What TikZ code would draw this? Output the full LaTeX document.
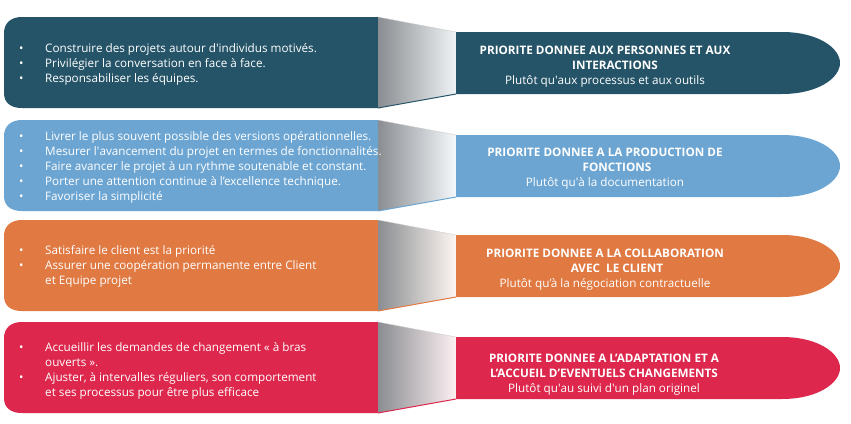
\documentclass[tikz,border=0pt]{standalone}
\usepackage{fontspec}
\setmainfont{Open Sans}
\usepackage{tikz}

\definecolor{tealrow}{RGB}{37,84,104}
\definecolor{bluerow}{RGB}{108,165,210}
\definecolor{orangerow}{RGB}{224,121,66}
\definecolor{redrow}{RGB}{221,39,76}
\definecolor{funnelgrey}{RGB}{138,141,145}

\begin{document}
\begin{tikzpicture}[x=1pt,y=-1pt,
  txt/.style={text=white,inner sep=0pt,font=\fontsize{11.7}{15}\selectfont},
  bullets/.style={txt,anchor=base west},
  prio/.style={txt,anchor=base}]
\useasboundingbox (0,0) rectangle (851,423);

% the four rows: box, funnel, arrow
\foreach \t/\col in {17/tealrow,120/bluerow,220/orangerow,322/redrow}{
\fill[\col](379,\t)--(22,\t) .. controls (11,\t) and (4,\t+6) .. (4,\t+16)
  --(4,\t+76) .. controls (4,\t+86) and (11,\t+91) .. (22,\t+91)--(379,\t+91)--cycle;
\shade[left color=funnelgrey,right color=\col!7!white](378,\t)--(456,\t+15)--(456,\t+77)--(378,\t+91)--cycle;
\draw[\col,line width=1pt](378,\t+91)--(456,\t+77);
\draw[gray!40](378,\t)--(456,\t+15);
\fill[\col](456,\t+15)--(782,\t+15) .. controls (818,\t+15) and (840,\t+31) .. (840,\t+46)
  .. controls (840,\t+61) and (818,\t+77) .. (782,\t+77)--(456,\t+77)--cycle;
}

\node[bullets](left1) at (19,52){\begin{tabular}[t]{@{}p{26pt}@{}l@{}}
\textbullet & Construire des projets autour d\textquotesingle individus motivés.\\
\textbullet & Privilégier la conversation en face à face.\\
\textbullet & Responsabiliser les équipes.\end{tabular}};
\node[bullets](left2) at (19,140){\begin{tabular}[t]{@{}p{26pt}@{}l@{}}
\textbullet & Livrer le plus souvent possible des versions opérationnelles.\\
\textbullet & Mesurer l\textquotesingle avancement du projet en termes de fonctionnalités.\\
\textbullet & Faire avancer le projet à un rythme soutenable et constant.\\
\textbullet & Porter une attention continue à l'excellence technique.\\
\textbullet & Favoriser la simplicité\end{tabular}};
\node[bullets](left3) at (19,254){\begin{tabular}[t]{@{}p{26pt}@{}l@{}}
\textbullet & Satisfaire le client est la priorité\\
\textbullet & Assurer une coopération permanente entre Client\\
 & et Equipe projet\end{tabular}};
\node[bullets](left4) at (19,351){\begin{tabular}[t]{@{}p{26pt}@{}l@{}}
\textbullet & Accueillir les demandes de changement « à bras\\
 & ouverts ».\\
\textbullet & Ajuster, à intervalles réguliers, son comportement\\
 & et ses processus pour être plus efficace\end{tabular}};

\node[prio](prio1) at (605,54){\begin{tabular}[t]{@{}c@{}}
\textbf{PRIORITE DONNEE AUX PERSONNES ET AUX}\\
\hspace*{20pt}\textbf{INTERACTIONS}\\
Plutôt qu\textquotesingle aux processus et aux outils\end{tabular}};
\node[prio](prio2) at (605,156){\begin{tabular}[t]{@{}c@{}}
\textbf{PRIORITE DONNEE A LA PRODUCTION DE}\\
\hspace*{24pt}\textbf{FONCTIONS}\\
Plutôt qu\textquotesingle à la documentation\end{tabular}};
\node[prio](prio3) at (605,257){\begin{tabular}[t]{@{}c@{}}
\textbf{PRIORITE DONNEE A LA COLLABORATION}\\
\hspace*{24pt}\textbf{AVEC\ \ LE CLIENT}\\
Plutôt qu'à la négociation contractuelle\end{tabular}};
\node[prio](prio4) at (604,362){\begin{tabular}[t]{@{}c@{}}
\textbf{PRIORITE DONNEE A L'ADAPTATION ET A}\\
\textbf{L'ACCUEIL D'EVENTUELS CHANGEMENTS}\\
Plutôt qu\textquotesingle au suivi d\textquotesingle un plan originel\end{tabular}};
\end{tikzpicture}
\end{document}
